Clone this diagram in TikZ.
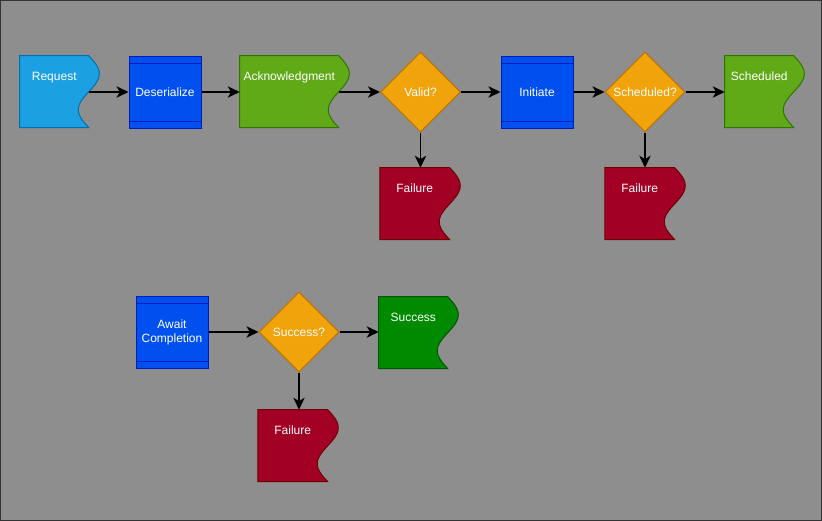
\documentclass[tikz,border=0pt]{standalone}
\usepackage{fontspec}
\setmainfont{Liberation Sans}
\usepackage{xcolor}
\usepackage{tikz}
\usetikzlibrary{shapes.geometric,arrows.meta,backgrounds}
\tikzstyle{line} = [draw, line width=1.2pt, -{Stealth[length=9pt,width=8.5pt,inset=2.5pt]}]
\definecolor{bg}{HTML}{8E8E8E}
\definecolor{frame}{HTML}{333333}
\definecolor{reqfill}{HTML}{1BA1E2}
\definecolor{reqline}{HTML}{006EAF}
\definecolor{procfill}{HTML}{0050EF}
\definecolor{procline}{HTML}{001DBC}
\definecolor{ackfill}{HTML}{60A917}
\definecolor{ackline}{HTML}{2D7600}
\definecolor{decfill}{HTML}{F0A30A}
\definecolor{decline}{HTML}{BD7000}
\definecolor{failfill}{HTML}{A20025}
\definecolor{failline}{HTML}{6F0000}
\definecolor{succfill}{HTML}{008A00}
\definecolor{succline}{HTML}{005700}

\begin{document}
\begin{tikzpicture}[x=0.75pt,y=-0.75pt,
    every node/.style={font=\fontsize{9}{10.5}\selectfont, text=white},
    proc/.style={draw=procline, fill=procfill, line width=0.75pt, minimum width=54pt, minimum height=54pt, inner sep=0pt, align=center,
      path picture={
        \draw[procline, line width=0.75pt] ([yshift=-5.25pt]path picture bounding box.north west) -- ([yshift=-5.25pt]path picture bounding box.north east);
        \draw[procline, line width=0.75pt] ([yshift=5.25pt]path picture bounding box.south west) -- ([yshift=5.25pt]path picture bounding box.south east);}},
    decision/.style={diamond, aspect=1, draw=decline, fill=decfill, line width=0.75pt, minimum width=60pt, minimum height=60pt, inner sep=0pt},
    wave/.style={inner xsep=0pt, inner ysep=0pt, text height=18.5pt, text depth=35.5pt, minimum width=#1},
    wave/.default=51.4pt]
   		\useasboundingbox (0,0) rectangle (822,521);
   		\begin{scope}[on background layer]
   		\draw[draw=frame, fill=bg, line width=0.75pt] (0.5,0.5) rectangle (821.5,520.5); % canvas
   		\end{scope}
   		% top row
   		\node[wave] (req) at (54.25,92) {Request};
   		\node[proc] (deser) at (165,92) {Deserialize};
   		\node[wave=73.9pt] (ack) at (289.25,92) {Acknowledgment};
   		\node[decision] (valid) at (420.5,92) {Valid?};
   		\node[proc] (init) at (537,92) {Initiate};
   		\node[decision] (schedq) at (645,92) {Scheduled?};
   		\node[wave] (sched) at (759.25,92) {Scheduled};
   		\node[wave=52.1pt] (failv) at (414.75,204) {Failure};
   		\node[wave=52.1pt] (fails) at (639.75,204) {Failure};
   		% bottom row
   		\node[proc] (await) at (172,332) {Await\\Completion};
   		\node[decision] (succq) at (299,332) {Success?};
   		\node[wave] (succ) at (413.25,333) {Success};
   		\node[wave=52.1pt] (failc) at (292.75,446) {Failure};
   		% connectors
   		\path[line] (req) -- (deser);
   		\path[line] (deser) -- (ack);
   		\path[line] (ack) -- (valid);
   		\path[line] (valid) -- (init);
   		\path[line] (init) -- (schedq);
   		\path[line] (schedq) -- (sched);
   		\path[line] (valid.south) -- (valid.south |- failv.north);
   		\path[line] (schedq.south) -- (schedq.south |- fails.north);
   		\path[line] (await) -- (succq);
   		\path[line] (succq) -- (succq -| succ.west);
   		\path[line] (succq.south) -- (succq.south |- failc.north);
   		% wavy outlines behind the texts
   		\begin{scope}[on background layer]
   		\foreach \n/\f/\d in {req/reqfill/reqline, ack/ackfill/ackline, sched/ackfill/ackline, failv/failfill/failline, fails/failfill/failline, failc/failfill/failline, succ/succfill/succline}
   		  \filldraw[fill=\f, draw=\d, line width=0.75pt, shift={(\n.north east)}] plot[domain=0:1, samples=41] ({10.5*sin(360*\x)}, {72*\x}) -| (\n.north west) -- cycle;
   		\end{scope}
\end{tikzpicture}
\end{document}
